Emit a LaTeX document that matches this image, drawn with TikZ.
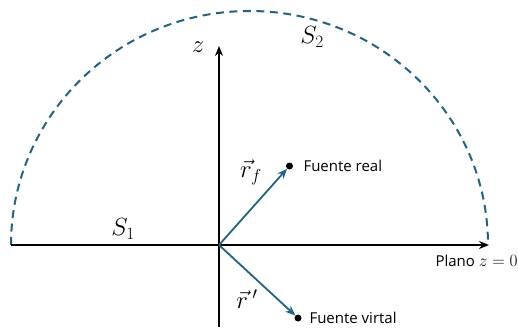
\documentclass[tikz,border=0pt]{standalone}
\usepackage{fontspec}
\setsansfont{Open Sans}
\usetikzlibrary{arrows.meta}
\definecolor{surfblue}{RGB}{31,99,135}

\begin{document}
\begin{tikzpicture}[x=1pt,y=1pt,>={Stealth[length=10pt,width=8pt]},
  txt/.style={font=\fontsize{15}{18}\sffamily},
  mth/.style={font=\fontsize{25}{30}\selectfont},
  src/.style={circle,fill=black,inner sep=0pt,minimum size=7pt}]
\useasboundingbox (0,0) rectangle (518,327);
\coordinate (O) at (219,82);
\coordinate (left) at (11,82);
\coordinate (right) at (489,82);
\coordinate (bottom) at (219,0);
\coordinate (top) at (219,281);
\draw[surfblue,line width=2pt,dash pattern=on 8pt off 5.5pt] (left) arc[start angle=180,end angle=0,x radius=238.5,y radius=234];
\draw[->,line width=1.7pt] (left) -- (right);
\draw[->,line width=1.7pt] (bottom) -- (top);
\node[src] (real) at (289.5,161) {};
\node[src] (virt) at (298,9) {};
\draw[->,surfblue,line width=1.8pt] (O) -- (real);
\draw[->,surfblue,line width=1.8pt] (O) -- (virt);
\node[txt,anchor=west] (reallbl) at (300,161) {Fuente real};
\node[txt,anchor=west] (virtlbl) at (306,9) {Fuente virtal};
\node[txt,anchor=west] (plane) at (432,66) {Plano \fontsize{19}{22}\selectfont$z=0$};
\node[mth] (rf) at (251,155) {$\vec{r}_f$};
\node[mth] (rp) at (247,28) {$\vec{r}\,'$};
\node[mth] (Sone) at (123,98) {$S_1$};
\node[mth] (Stwo) at (312,290) {$S_2$};
\node[mth] (zlbl) at (198,280) {$z$};
\end{tikzpicture}
\end{document}
